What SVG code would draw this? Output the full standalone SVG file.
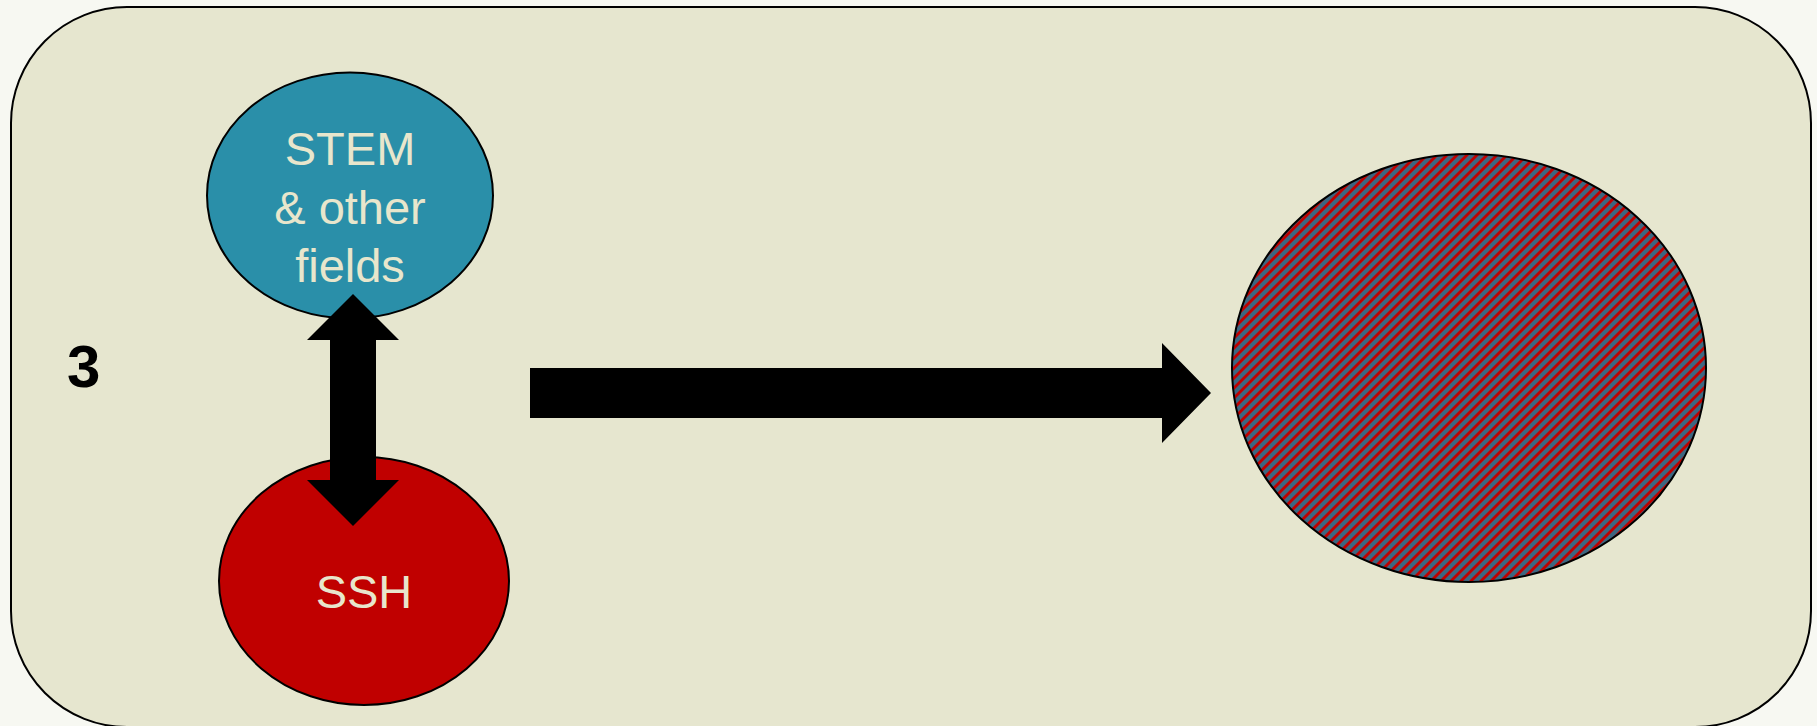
<svg xmlns="http://www.w3.org/2000/svg" width="1817" height="726" viewBox="0 0 1817 726">
  <style>
    .lbl { font-family: "Liberation Sans", Arial, sans-serif; font-size: 47px; fill: #e8e6cc; text-anchor: middle; }
    .num { font-family: "Liberation Sans", Arial, sans-serif; font-size: 60px; font-weight: bold; fill: #000; }
    .node { stroke: #000; stroke-width: 2; }
    .arrow { fill: #000; }
  </style>
  <defs>
    <pattern id="hatch" patternUnits="userSpaceOnUse" x="0" y="0" width="10" height="10">
      <rect x="0" y="0" width="10" height="10" fill="#3d6680"/>
      <polygon points="0,0 4,0 0,4" fill="#c00000"/>
      <polygon points="10,0 10,4 4,10 0,10" fill="#c00000"/>
    </pattern>
  </defs>
  <rect x="0" y="0" width="1817" height="726" fill="#f7f8f2"/>
  <g id="frame">
    <rect x="11" y="7" width="1800" height="720" rx="116" ry="116" fill="#e6e6cf" stroke="#000" stroke-width="2"/>
    <text class="num" x="67" y="387">3</text>
  </g>
  <g id="stem">
    <ellipse class="node" cx="350" cy="195.5" rx="143" ry="123" fill="#2a8fa9"/>
    <text class="lbl" x="350" y="165">STEM</text>
    <text class="lbl" x="350" y="224">&amp; other</text>
    <text class="lbl" x="350" y="282">fields</text>
  </g>
  <g id="ssh">
    <ellipse class="node" cx="364" cy="581" rx="145" ry="124" fill="#c00000"/>
    <text class="lbl" x="364" y="608">SSH</text>
  </g>
  <g id="result">
    <ellipse class="node" cx="1469" cy="368" rx="237" ry="214" fill="url(#hatch)"/>
  </g>
  <g id="connectors">
    <polygon class="arrow" points="353,294 399,340 376,340 376,480 399,480 353,526 307,480 330,480 330,340 307,340"/>
    <polygon class="arrow" points="530,368 1162,368 1162,343 1211,393 1162,443 1162,418 530,418"/>
  </g>
</svg>
